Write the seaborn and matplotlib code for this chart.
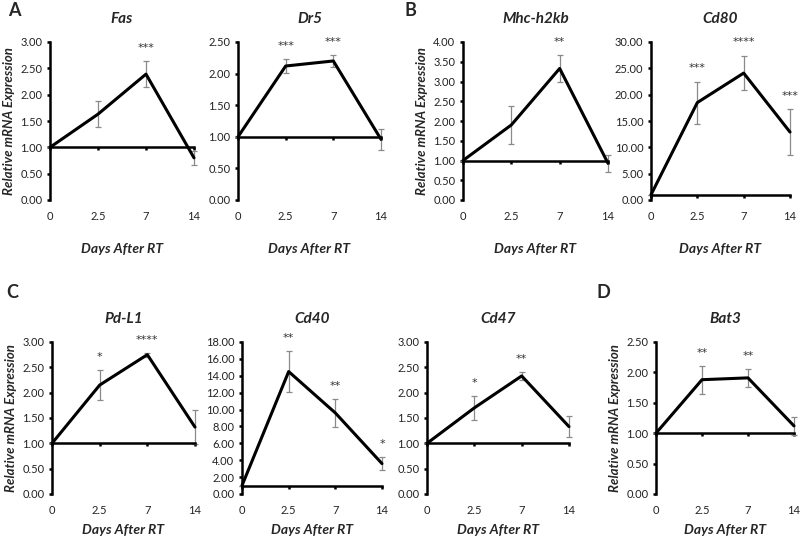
import numpy as np
import pandas as pd
import matplotlib.pyplot as plt
import seaborn as sns

days = ['0', '2.5', '7', '14']

fas_mean = [1.00, 1.63, 2.39, 0.80]
fas_err = [0, 0.25, 0.25, 0.13]
fas_stars = ['', '', '***', '']

dr5_mean = [1.00, 2.12, 2.20, 0.96]
dr5_err = [0, 0.11, 0.09, 0.17]
dr5_stars = ['', '***', '***', '']

mhc_mean = [1.00, 1.90, 3.33, 0.93]
mhc_err = [0, 0.48, 0.33, 0.22]
mhc_stars = ['', '', '**', '']

cd80_mean = [1.00, 18.5, 24.1, 12.9]
cd80_err = [0, 4.0, 3.3, 4.3]
cd80_stars = ['', '***', '****', '***']

pdl1_mean = [1.00, 2.15, 2.75, 1.32]
pdl1_err = [0, 0.30, 0.04, 0.33]
pdl1_stars = ['', '*', '****', '']

cd40_mean = [1.00, 14.5, 9.6, 3.6]
cd40_err = [0, 2.4, 1.7, 0.8]
cd40_stars = ['', '**', '**', '*']

cd47_mean = [1.00, 1.70, 2.33, 1.33]
cd47_err = [0, 0.23, 0.08, 0.20]
cd47_stars = ['', '*', '**', '']

bat3_mean = [1.00, 1.88, 1.91, 1.12]
bat3_err = [0, 0.23, 0.15, 0.15]
bat3_stars = ['', '**', '**', '']

sns.set_theme(style='white')
plt.rcParams['font.family'] = ['Lato', 'DejaVu Sans']

W, H = 800, 547
fig = plt.figure(figsize=(8, 5.47), dpi=100)

# (title, mean, err, stars, ymax, ystep, ylabel?, left, right, top, bottom, xlabel pad) in pixels
panels = [
    ('Fas', fas_mean, fas_err, fas_stars, 3.0, 0.5, True, 50, 194, 42, 200, 15),
    ('Dr5', dr5_mean, dr5_err, dr5_stars, 2.5, 0.5, False, 238, 381, 42, 200, 15),
    ('Mhc-h2kb', mhc_mean, mhc_err, mhc_stars, 4.0, 0.5, True, 463, 608, 42, 200, 15),
    ('Cd80', cd80_mean, cd80_err, cd80_stars, 30.0, 5.0, False, 651, 790, 42, 200, 15),
    ('Pd-L1', pdl1_mean, pdl1_err, pdl1_stars, 3.0, 0.5, True, 52, 195, 342, 494, 6),
    ('Cd40', cd40_mean, cd40_err, cd40_stars, 18.0, 2.0, False, 242, 382, 342, 494, 6),
    ('Cd47', cd47_mean, cd47_err, cd47_stars, 3.0, 0.5, False, 427, 569, 342, 494, 6),
    ('Bat3', bat3_mean, bat3_err, bat3_stars, 2.5, 0.5, True, 656, 794, 342, 494, 6),
]

for title, mean, err, stars, ymax, ystep, show_ylab, l, r, t, b, xpad in panels:
    ax = fig.add_axes([l / W, 1 - b / H, (r - l) / W, (b - t) / H])
    df = pd.DataFrame({'pos': np.arange(len(days)), 'val': mean, 'err': err})

    eb = ax.errorbar(df['pos'], df['val'], yerr=df['err'], fmt='none', ecolor='#8a8a8a',
                     elinewidth=0.9, capsize=2.5, capthick=0.9, zorder=2)
    for child in eb.get_children():
        child.set_clip_on(False)
    sns.lineplot(data=df, x='pos', y='val', ax=ax, color='black', linewidth=2.2,
                 zorder=3, clip_on=False)

    for p, v, e, s in zip(df['pos'], mean, err, stars):
        if s:
            ax.text(p, v + e + 0.085 * ymax, s, ha='center', va='center',
                    fontsize=8, color='#333333', family=['DejaVu Sans'])

    ax.set_xlim(0, 3)
    ax.set_ylim(0, ymax)
    ax.set_yticks(np.arange(0, ymax + ystep / 2, ystep))
    ax.yaxis.set_major_formatter(plt.FormatStrFormatter('%.2f'))

    for side in ['top', 'right']:
        ax.spines[side].set_visible(False)
    ax.spines['left'].set_linewidth(1.8)
    ax.spines['left'].set_color('black')
    ax.spines['bottom'].set_position(('data', 1))
    ax.spines['bottom'].set_linewidth(1.8)
    ax.spines['bottom'].set_color('black')

    ax.set_xticks(df['pos'])
    ax.set_xticklabels([])
    ax.tick_params(axis='x', bottom=True, direction='out', length=2.5, width=1.8, color='black')
    ax.tick_params(axis='y', left=True, direction='out', length=2.5, width=1.8,
                   color='black', labelsize=8, labelcolor='#222222', pad=3)

    sec = ax.secondary_xaxis('bottom')
    sec.set_xticks(df['pos'])
    sec.set_xticklabels(days)
    sec.spines['bottom'].set_visible(False)
    sec.tick_params(length=0, labelsize=8, labelcolor='#222222', pad=8)
    sec.set_xlabel('Days After RT', fontsize=10, fontweight='bold', fontstyle='italic', labelpad=xpad)

    ax.set_xlabel('')
    if show_ylab:
        ax.set_ylabel('Relative mRNA Expression', fontsize=9.5, fontweight='bold',
                      fontstyle='italic', labelpad=4)
    else:
        ax.set_ylabel('')
    ax.set_title(title, fontsize=11, fontweight='bold', fontstyle='italic', pad=14)

for letter, x, y in [('A', 8, 10), ('B', 405, 10), ('C', 6, 292), ('D', 597, 292)]:
    fig.text(x / W, 1 - y / H, letter, fontsize=13, fontweight='bold', ha='left', va='center')

fig.savefig('out.png', dpi=100)
